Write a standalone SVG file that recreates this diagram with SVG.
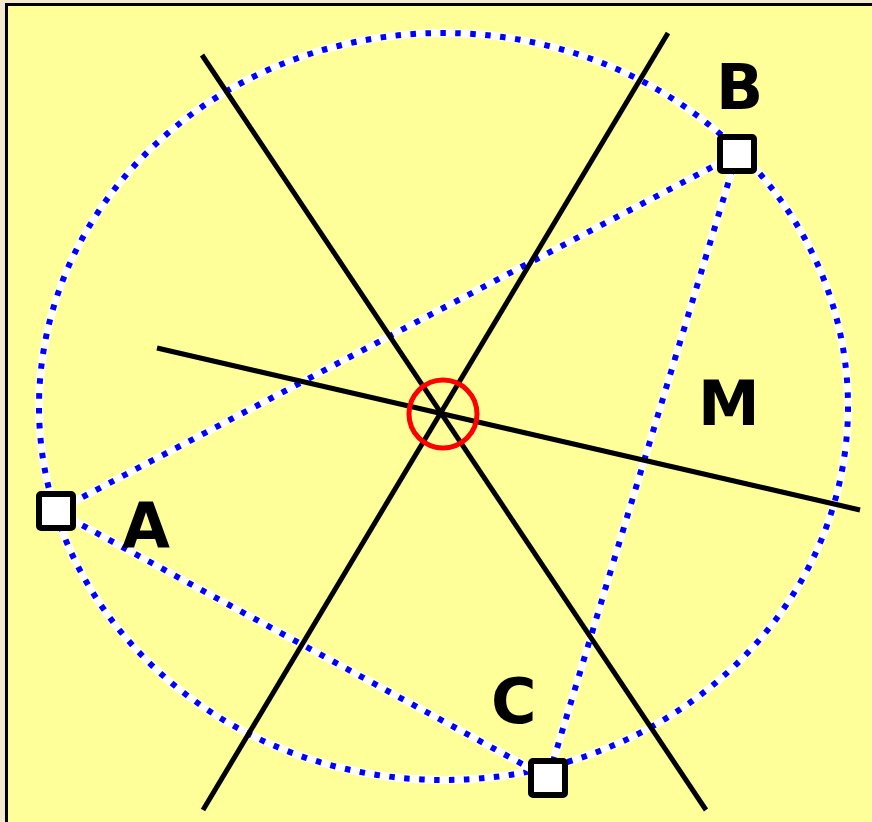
<svg xmlns="http://www.w3.org/2000/svg" width="872" height="822" viewBox="0 0 872 822">
<style>
.band{fill:none;stroke:#ffffff;stroke-width:8}
.dots{fill:none;stroke:#0000ff;stroke-width:6;stroke-dasharray:5.5 9.5}
.line{stroke:#000000;stroke-width:5;stroke-linecap:butt}
.pt{fill:#ffffff;stroke:#000000;stroke-width:6}
.lbl{font-family:"DejaVu Sans",Verdana,sans-serif;font-weight:bold;font-size:62px;fill:#000000}
</style>
<rect x="0" y="0" width="872" height="822" fill="#f3ead0"/>
<rect x="6.5" y="4.5" width="880" height="830" fill="#ffff99" stroke="#000000" stroke-width="3"/>
<g id="circle">
<ellipse class="band" cx="443.5" cy="406.5" rx="404.5" ry="373.5"/>
<ellipse class="dots" cx="443.5" cy="406.5" rx="404.5" ry="373.5"/>
</g>
<g id="connectors">
<path class="band" d="M56 511 L737 154 M56 511 L548 778 M737 154 L548 778"/>
<path class="dots" d="M56 511 L737 154 M56 511 L548 778 M737 154 L548 778"/>
<line class="line" x1="202" y1="55" x2="706" y2="810"/>
<line class="line" x1="668" y1="33" x2="203" y2="810"/>
<line class="line" x1="157" y1="348" x2="860" y2="510"/>
</g>
<g id="M-center">
<circle cx="443" cy="414" r="34" fill="none" stroke="#ff0000" stroke-width="5"/>
</g>
<g id="A"><rect class="pt" x="39" y="494" width="34" height="34" rx="2"/><text class="lbl" x="122" y="547">A</text></g>
<g id="B"><rect class="pt" x="720" y="137" width="34" height="34" rx="2"/><text class="lbl" x="716" y="109">B</text></g>
<g id="C"><rect class="pt" x="531" y="761" width="34" height="34" rx="2"/><text class="lbl" x="491" y="723">C</text></g>
<g id="M"><text class="lbl" x="698" y="425">M</text></g>
</svg>
